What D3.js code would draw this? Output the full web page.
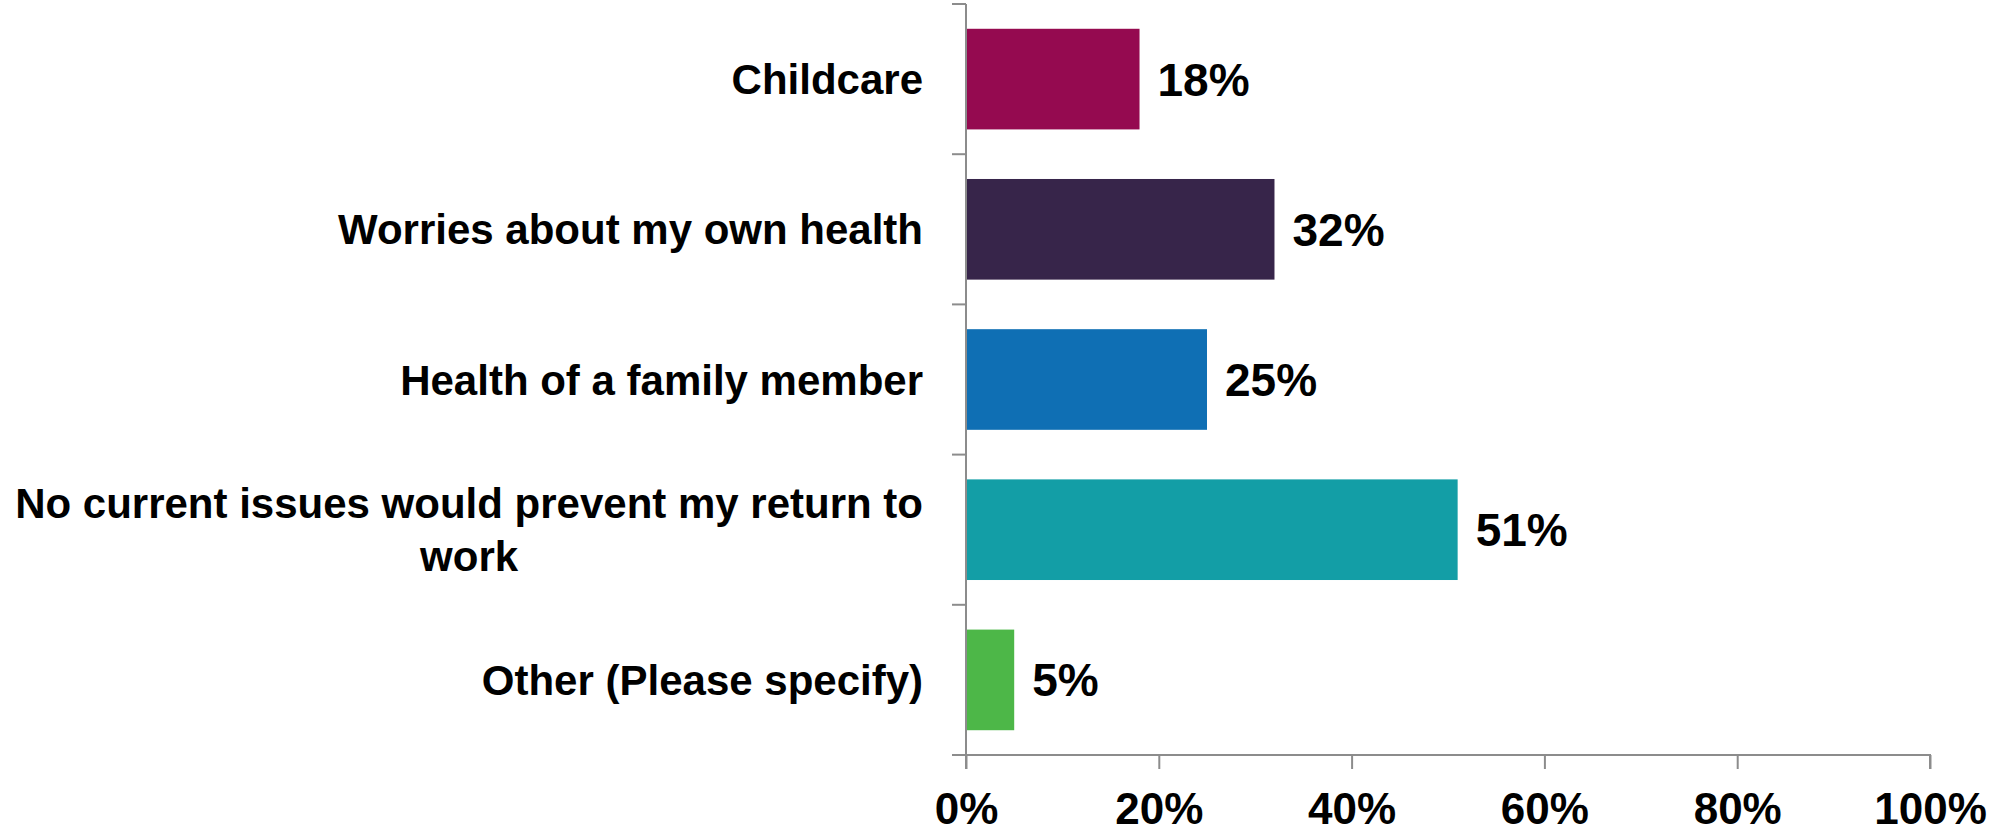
<!DOCTYPE html>
<html>
<head>
<meta charset="utf-8">
<script src="https://cdn.jsdelivr.net/npm/d3@7"></script>
<style>
  html, body { margin: 0; padding: 0; background: #fff; }
  svg { display: block; }
</style>
</head>
<body>
<svg id="chart" width="1990" height="834"></svg>
<script>
const categories = [
  "Childcare",
  "Worries about my own health",
  "Health of a family member",
  "No current issues would prevent my return to work",
  "Other (Please specify)"
];
const labelLines = [
  ["Childcare"],
  ["Worries about my own health"],
  ["Health of a family member"],
  ["No current issues would prevent my return to", "work"],
  ["Other (Please specify)"]
];
const values = [18, 32, 25, 51, 5];
const colors = ["#950a50", "#37254a", "#0f6fb4", "#139ea6", "#4db748"];
const xTicks = [0, 20, 40, 60, 80, 100];

(function () {
const svg = d3.select("#chart");
const plotLeft = 966, plotRight = 1930, plotTop = 4, plotBottom = 755;

const x = d3.scaleLinear().domain([0, 100]).range([plotLeft, plotRight]);
const y = d3.scaleBand().domain(categories).range([plotTop, plotBottom]).paddingInner(0.33).paddingOuter(0.165);
const yLines = d3.scaleBand().domain(categories).range([plotTop, plotBottom]);

const axisColor = "#8c8c8c";
const labelFont = "'Liberation Sans', Arial, sans-serif";

// bars
svg.selectAll("rect.bar")
  .data(categories)
  .join("rect")
  .attr("class", "bar")
  .attr("x", x(0))
  .attr("y", d => y(d))
  .attr("width", (d, i) => x(values[i]) - x(0))
  .attr("height", y.bandwidth())
  .attr("fill", (d, i) => colors[i]);

// y axis line + ticks at band boundaries
const yBoundaries = categories.map(d => yLines(d)).concat([plotBottom]);
svg.append("line")
  .attr("x1", plotLeft).attr("x2", plotLeft)
  .attr("y1", plotTop).attr("y2", plotBottom + 14)
  .attr("stroke", axisColor).attr("stroke-width", 2);
svg.selectAll("line.ytick")
  .data(yBoundaries)
  .join("line")
  .attr("class", "ytick")
  .attr("x1", plotLeft - 14).attr("x2", plotLeft)
  .attr("y1", d => d).attr("y2", d => d)
  .attr("stroke", axisColor).attr("stroke-width", 2);

// x axis
const xAxis = d3.axisBottom(x).tickValues(xTicks).tickSize(14).tickFormat(d => d + "%");
const gx = svg.append("g").attr("transform", `translate(0,${plotBottom})`).call(xAxis);
gx.select(".domain").attr("stroke", axisColor).attr("stroke-width", 2)
  .attr("d", `M${plotLeft - 14},0H${plotRight}V14`);
gx.selectAll(".tick line").attr("stroke", axisColor).attr("stroke-width", 2);
gx.selectAll(".tick text")
  .attr("y", 69).attr("dy", 0)
  .attr("fill", "#000")
  .style("font-family", labelFont)
  .style("font-weight", "bold")
  .style("font-size", "44px");

// value labels
svg.selectAll("text.val")
  .data(categories)
  .join("text")
  .attr("class", "val")
  .attr("x", (d, i) => x(values[i]) + 18)
  .attr("y", d => y(d) + y.bandwidth() / 2)
  .attr("dy", "0.36em")
  .style("font-family", labelFont)
  .style("font-weight", "bold")
  .style("font-size", "46px")
  .attr("fill", "#000")
  .text((d, i) => values[i] + "%");

// category labels
const labelRight = 923;
const lineH = 53;
categories.forEach((c, i) => {
  const lines = labelLines[i];
  const cy = yLines(c) + yLines.bandwidth() / 2;
  const g = svg.append("g");
  const texts = lines.map((ln, j) => g.append("text")
    .attr("y", cy + (j - (lines.length - 1) / 2) * lineH)
    .attr("dy", "0.36em")
    .style("font-family", labelFont)
    .style("font-weight", "bold")
    .style("font-size", "42px")
    .attr("fill", "#000")
    .text(ln));
  const maxW = d3.max(texts, t => t.node().getComputedTextLength());
  texts.forEach(t => t.attr("x", labelRight - maxW / 2).attr("text-anchor", "middle"));
});
})();
</script>
</body>
</html>
